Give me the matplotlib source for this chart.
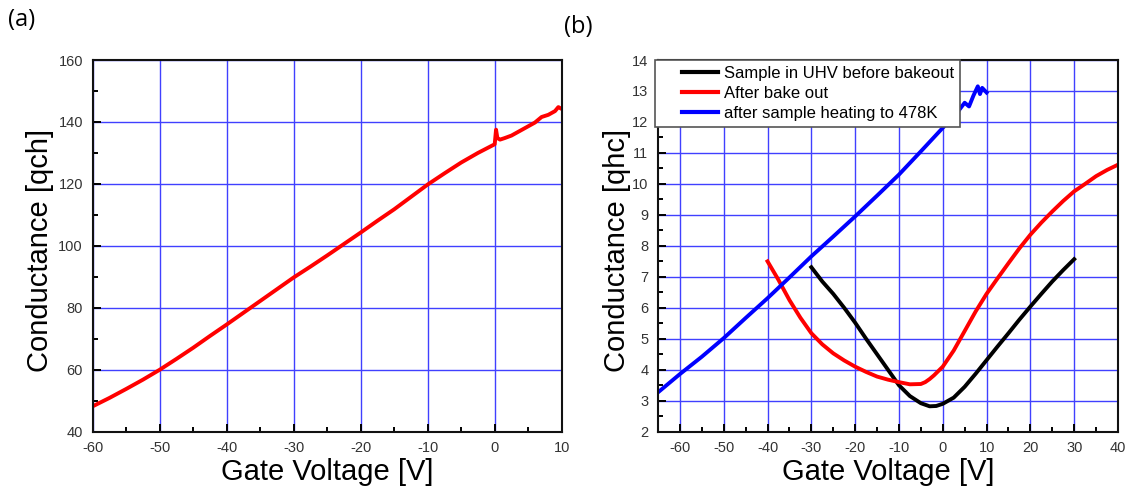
import matplotlib
matplotlib.use("Agg")
import matplotlib.pyplot as plt
from matplotlib.ticker import MultipleLocator
from matplotlib.legend_handler import HandlerLine2D
from matplotlib.lines import Line2D

plt.rcParams['font.family'] = ['Liberation Sans', 'DejaVu Sans']
plt.rcParams['axes.unicode_minus'] = False

# ---- Panel (a) data ----
a_vg = [-60, -57.5, -55, -52.5, -50, -47.5, -45, -42.5, -40, -37.5, -35, -32.5, -30,
        -27.5, -25, -22.5, -20, -17.5, -15, -12.5, -10, -7.5, -5, -2.5, 0, 0.2, 0.4,
        0.8, 1.5, 2.5, 3.5, 5, 6, 7, 8, 9, 9.5, 10]
a_g = [48.2, 50.9, 53.8, 56.8, 60.0, 63.5, 67.1, 70.9, 74.6, 78.4, 82.2, 86.0, 89.8,
       93.3, 96.9, 100.6, 104.3, 108.1, 111.8, 115.8, 119.8, 123.4, 126.9, 130.0, 132.8, 137.5, 134.8,
       134.3, 134.8, 135.6, 136.8, 138.6, 139.8, 141.6, 142.3, 143.5, 144.8, 144.2]

# ---- Panel (b) data ----
b_black_vg = [-30, -27.5, -25, -22.5, -20, -17.5, -15, -12.5, -10, -7.5, -5, -3, -1.5, 0,
              2.5, 5, 7.5, 10, 12.5, 15, 17.5, 20, 22.5, 25, 27.5, 30]
b_black_g = [7.31, 6.85, 6.45, 6.0, 5.52, 5.0, 4.5, 4.0, 3.5, 3.15, 2.92, 2.82, 2.83, 2.9,
             3.1, 3.45, 3.87, 4.31, 4.75, 5.18, 5.62, 6.04, 6.45, 6.85, 7.22, 7.57]

b_red_vg = [-40, -37.5, -35, -32.5, -30, -27.5, -25, -22.5, -20, -17.5, -15, -12.5, -10,
            -7.5, -5, -4, -3, -2, -1, 0, 2.5, 5, 7.5, 10, 12.5, 15, 17.5, 20, 22.5, 25,
            27.5, 30, 32.5, 35, 37.5, 40]
b_red_g = [7.5, 6.9, 6.25, 5.68, 5.18, 4.82, 4.53, 4.3, 4.1, 3.93, 3.78, 3.68, 3.6,
           3.53, 3.54, 3.6, 3.7, 3.82, 3.96, 4.1, 4.62, 5.25, 5.88, 6.45, 6.95, 7.44, 7.92,
           8.36, 8.75, 9.11, 9.45, 9.76, 10.0, 10.25, 10.45, 10.62]

b_blue_vg = [-65, -60, -55, -50, -45, -40, -35, -30, -25, -20, -15, -10, -5, 0, 3, 5,
             6, 7, 8, 8.5, 9, 10]
b_blue_g = [3.27, 3.86, 4.42, 5.02, 5.67, 6.31, 6.98, 7.66, 8.3, 8.95, 9.62, 10.3, 11.05,
            11.81, 12.25, 12.62, 12.5, 12.85, 13.15, 12.9, 13.1, 12.95]

b_labels = ['Sample in UHV before bakeout', 'After bake out', 'after sample heating to 478K']

GRID = '#4040ff'
TICKC = '#333333'
LW = 2.8

fig = plt.figure(figsize=(11.29, 4.91), dpi=100)
H = 491.0
W = 1129.0
axa = fig.add_axes([92.7 / W, 1 - 431.7 / H, (561.7 - 92.7) / W, (431.7 - 60) / H])
axb = fig.add_axes([658 / W, 1 - 431.7 / H, (1118 - 658) / W, (431.7 - 60) / H])

def style(ax):
    for s in ax.spines.values():
        s.set_linewidth(1.5)
        s.set_color('#111111')
    ax.tick_params(which='major', direction='in', length=6, width=1.4, labelsize=10.5,
                   labelcolor=TICKC, pad=7, top=False, right=False)
    ax.tick_params(which='minor', direction='in', length=3.5, width=1.4, top=False, right=False)
    ax.grid(True, which='major', color=GRID, linewidth=1.0)
    ax.set_axisbelow(True)

# Panel (a)
axa.plot(a_vg, a_g, color='#ff0000', lw=LW)
axa.set_xlim(-60, 10)
axa.set_ylim(40, 160)
axa.xaxis.set_major_locator(MultipleLocator(10))
axa.xaxis.set_minor_locator(MultipleLocator(5))
axa.yaxis.set_major_locator(MultipleLocator(20))
axa.yaxis.set_minor_locator(MultipleLocator(10))
style(axa)
axa.set_xlabel('Gate Voltage [V]', fontsize=21)
axa.set_ylabel('Conductance [qch]', fontsize=21)
axa.xaxis.set_label_coords(0.5, -0.108)
axa.xaxis.label.set_va('center')
axa.yaxis.set_label_coords((40 - 92.7) / 469.0, 0.487)
axa.yaxis.label.set_va('center')

# Panel (b)
axb.plot(b_black_vg, b_black_g, color='#000000', lw=LW, label=b_labels[0])
axb.plot(b_red_vg, b_red_g, color='#ff0000', lw=LW, label=b_labels[1])
axb.plot(b_blue_vg, b_blue_g, color='#0000ff', lw=LW, label=b_labels[2])
axb.set_xlim(-65, 40)
axb.set_ylim(2, 14)
axb.xaxis.set_major_locator(MultipleLocator(10))
axb.xaxis.set_minor_locator(MultipleLocator(5))
axb.yaxis.set_major_locator(MultipleLocator(1))
axb.yaxis.set_minor_locator(MultipleLocator(0.5))
style(axb)
axb.set_xlabel('Gate Voltage [V]', fontsize=21)
axb.set_ylabel('Conductance [qhc]', fontsize=21)
axb.xaxis.set_label_coords(0.5, -0.108)
axb.xaxis.label.set_va('center')
axb.yaxis.set_label_coords((617 - 658) / 460.0, 0.487)
axb.yaxis.label.set_va('center')

leg = axb.legend(loc='upper left', bbox_to_anchor=(-3 / 460.0, 1), borderaxespad=0,
                 fontsize=12, frameon=True, fancybox=False, framealpha=1,
                 handlelength=3.43, handletextpad=0.35, labelspacing=0.3,
                 borderpad=0.35, handler_map={Line2D: HandlerLine2D(xpad=1.27)})
leg.get_frame().set_edgecolor('#555555')
leg.get_frame().set_linewidth(1.2)
for l in leg.get_lines():
    l.set_linewidth(3.0)

fig.text(8 / W, 1 - 20 / H, '(a)', fontsize=17, family=['Open Sans', 'DejaVu Sans'],
         va='center', ha='left')
fig.text(564 / W, 1 - 27 / H, '(b)', fontsize=17, family=['Open Sans', 'DejaVu Sans'],
         va='center', ha='left')

fig.savefig('out.png', dpi=100)
